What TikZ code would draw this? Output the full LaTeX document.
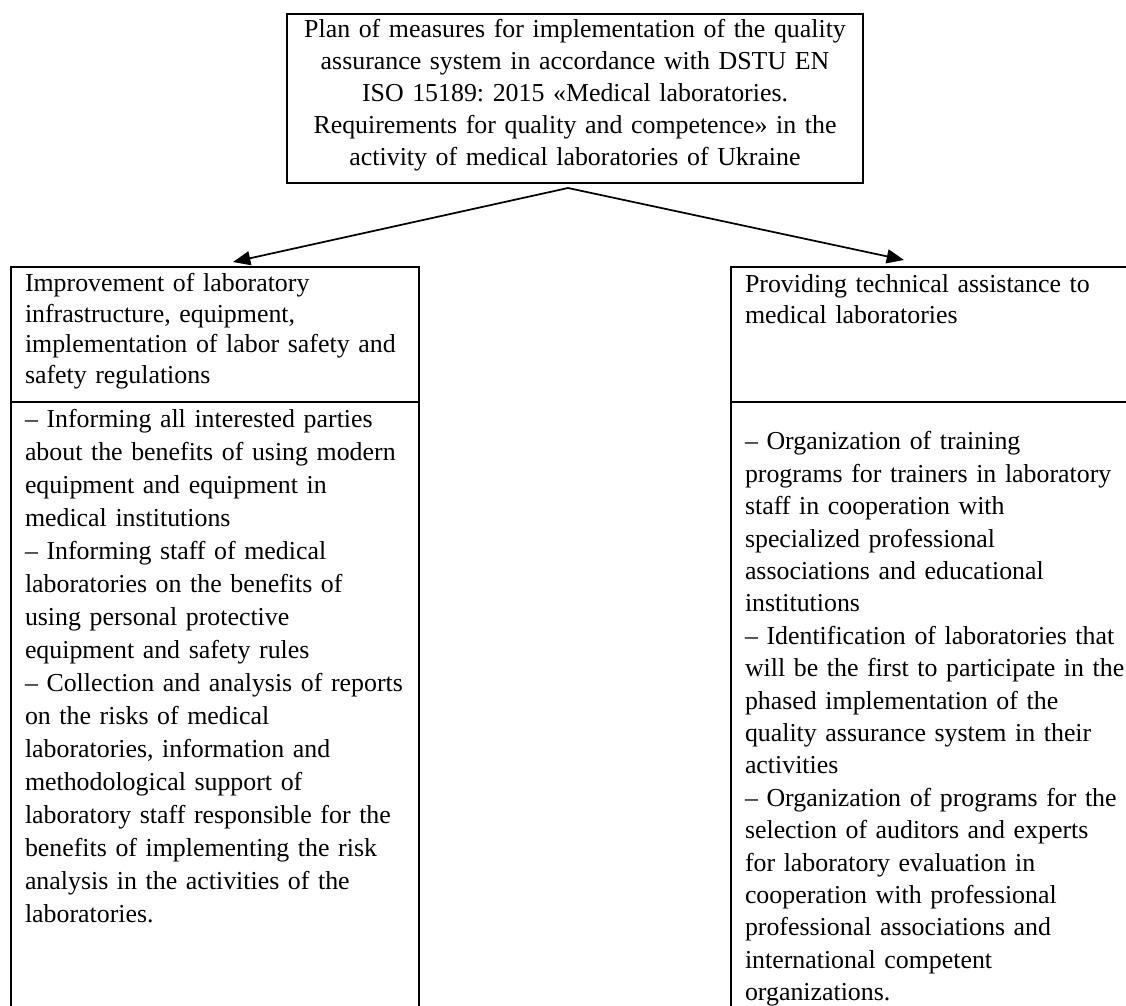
\documentclass[tikz,border=0pt]{standalone}
\usepackage{fontspec}
\setmainfont{Liberation Serif}
\usetikzlibrary{arrows.meta}
\frenchspacing
\begin{document}
\begin{tikzpicture}[x=0.75pt,y=-0.75pt]
\tikzset{
  frame/.style={draw, line width=1.5pt, inner sep=0pt, outer sep=0pt, anchor=north west},
  txt/.style={inner sep=0pt, outer sep=0pt, anchor=north west, align=left, text width=300pt},
  arr/.style={-{Triangle[length=13pt,width=10.5pt]}, line width=1.3pt},
}
\path[use as bounding box] (0,0) rectangle (1126,1005);
\clip (0,0) rectangle (1126,1005);

% boxes
\node[frame, minimum width=432pt, minimum height=126.75pt] (top) at (287,14) {};
\node[frame, minimum width=306pt, minimum height=101.25pt] (lhead) at (11,267) {};
\node[frame, minimum width=306pt, minimum height=456pt] (llow) at (11,402) {};
\node[frame, minimum width=299.25pt, minimum height=101.25pt] (rhead) at (731,267) {};
\node[frame, minimum width=299.25pt, minimum height=456pt] (rlow) at (731,402) {};

% texts
\node[inner sep=0pt, outer sep=0pt, anchor=north, align=center, text width=440pt,
      font=\fontsize{19.4}{24}\selectfont] (toptext) at (575,15.1)
 {\strut Plan of measures for implementation of the quality\\
  assurance system in accordance with DSTU EN\\
  ISO 15189: 2015 «Medical laboratories.\\
  Requirements for quality and competence» in the\\
  activity of medical laboratories of Ukraine};

\node[txt, font=\fontsize{19.4}{22.875}\selectfont] (lheadtext) at (25,270.6)
 {\strut Improvement of laboratory\\
  infrastructure, equipment,\\
  implementation of labor safety and\\
  safety regulations};

\node[txt, font=\fontsize{19.4}{24.75}\selectfont] (llowtext) at (25,403.9)
 {\strut – Informing all interested parties\\
  about the benefits of using modern\\
  equipment and equipment in\\
  medical institutions\\
  – Informing staff of medical\\
  laboratories on the benefits of\\
  using personal protective\\
  equipment and safety rules\\
  – Collection and analysis of reports\\
  on the risks of medical\\
  laboratories, information and\\
  methodological support of\\
  laboratory staff responsible for the\\
  benefits of implementing the risk\\
  analysis in the activities of the\\
  laboratories.};

\node[txt, font=\fontsize{19.4}{22.875}\selectfont] (rheadtext) at (745,271.6)
 {\strut Providing technical assistance to\\
  medical laboratories};

\node[txt, font=\fontsize{19.4}{24.3}\selectfont] (rlowtext) at (745,427.3)
 {\strut – Organization of training\\
  programs for trainers in laboratory\\
  staff in cooperation with\\
  specialized professional\\
  associations and educational\\
  institutions\\
  – Identification of laboratories that\\
  will be the first to participate in the\\
  phased implementation of the\\
  quality assurance system in their\\
  activities\\
  – Organization of programs for the\\
  selection of auditors and experts\\
  for laboratory evaluation in\\
  cooperation with professional\\
  professional associations and\\
  international competent\\
  organizations.};

% connectors
\coordinate (apex) at (568,188);
\coordinate (ltip) at (233,262);
\coordinate (rtip) at (904,260);
\draw[arr] (apex) -- (ltip);
\draw[arr] (apex) -- (rtip);
\end{tikzpicture}
\end{document}
